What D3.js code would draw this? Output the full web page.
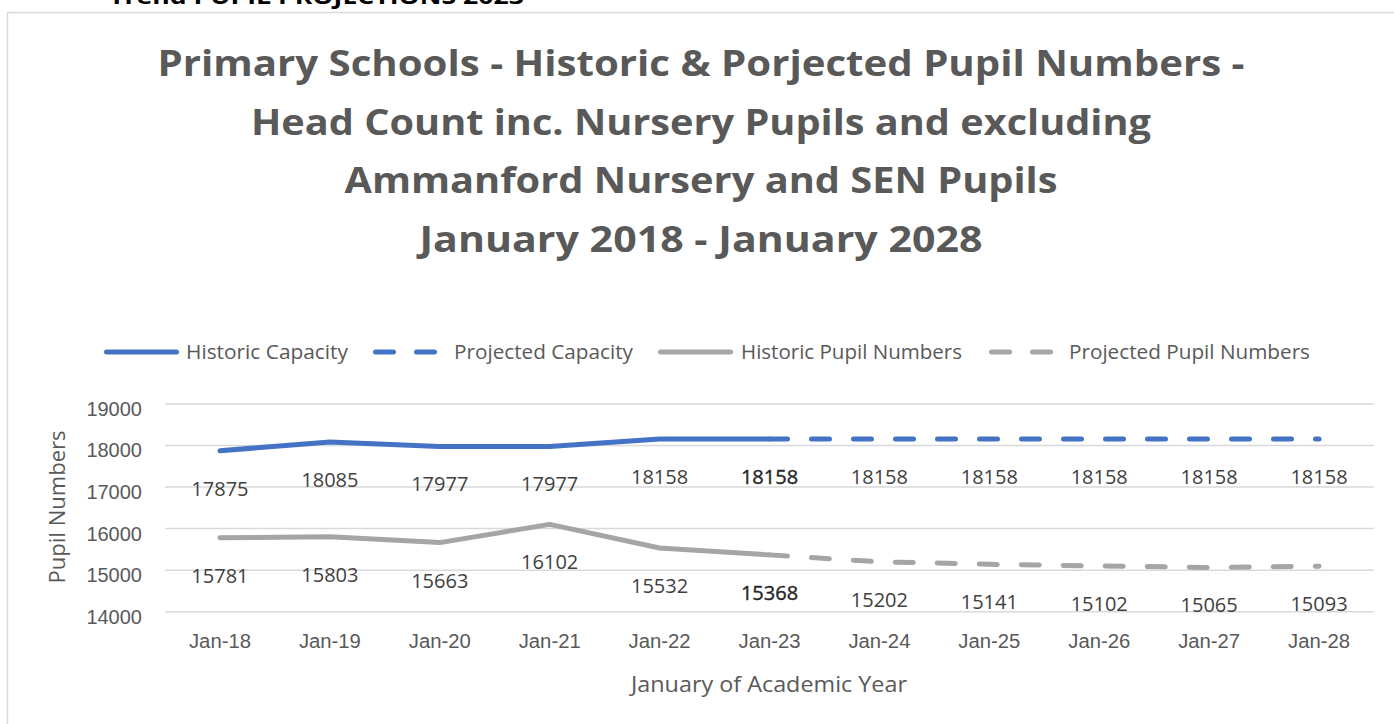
<!DOCTYPE html>
<html>
<head>
<meta charset="utf-8">
<script src="https://cdn.jsdelivr.net/npm/d3@7"></script>
<style>
  body { margin: 0; background: #fff; }
  svg { display: block; font-family: "Open Sans", Lato, sans-serif; }
</style>
</head>
<body>
<svg width="1394" height="724"></svg>
<script>
// data
const years = ['Jan-18', 'Jan-19', 'Jan-20', 'Jan-21', 'Jan-22', 'Jan-23', 'Jan-24', 'Jan-25', 'Jan-26', 'Jan-27', 'Jan-28'];
const capacity = [17875, 18085, 17977, 17977, 18158, 18158, 18158, 18158, 18158, 18158, 18158];
const pupils = [15781, 15803, 15663, 16102, 15532, 15368, 15202, 15141, 15102, 15065, 15093];
const splitIndex = 5; // Jan-23: last historic point, first projected point
const yTicks = [14000, 15000, 16000, 17000, 18000, 19000];
const titleLines = ['Primary Schools - Historic & Porjected Pupil Numbers -', 'Head Count inc. Nursery Pupils and excluding', 'Ammanford Nursery and SEN Pupils', 'January 2018 - January 2028'];
const legendItems = ['Historic Capacity', 'Projected Capacity', 'Historic Pupil Numbers', 'Projected Pupil Numbers'];

const blue = '#4472C4', grey = '#A5A5A5', textCol = '#595959';

const svg = d3.select('svg');

// cut-off heading from the document above the chart
svg.append('text')
    .attr('x', 109).attr('y', 4)
    .attr('font-size', 22).attr('font-weight', 'bold').attr('fill', '#000')
    .attr('textLength', 415).attr('lengthAdjust', 'spacingAndGlyphs')
    .text('Trend PUPIL PROJECTIONS 2023');

// chart frame
svg.append('rect')
    .attr('x', 7.5).attr('y', 12.5)
    .attr('width', 1400).attr('height', 730)
    .attr('fill', '#fff').attr('stroke', '#d9d9d9').attr('stroke-width', 1.5);

// title
const titleWidths = [1087, 900, 713, 563];
svg.append('g').selectAll('text')
    .data(titleLines).join('text')
    .attr('x', 701)
    .attr('y', (d, i) => 76 + i * 58.5)
    .attr('text-anchor', 'middle')
    .attr('font-size', 35).attr('font-weight', 'bold').attr('fill', textCol)
    .attr('textLength', (d, i) => titleWidths[i]).attr('lengthAdjust', 'spacingAndGlyphs')
    .text(d => d);

const x = d3.scaleBand().domain(years).range([165, 1374]);
const y = d3.scaleLinear().domain([14000, 19000]).range([611.7, 404]);
const cx = d => x(d) + x.bandwidth() / 2;

// gridlines
svg.append('g').selectAll('line')
    .data(yTicks).join('line')
    .attr('x1', 165).attr('x2', 1374)
    .attr('y1', d => y(d)).attr('y2', d => y(d))
    .attr('stroke', '#d9d9d9').attr('stroke-width', 1.5);

// y axis labels
const yAxis = svg.append('g')
    .attr('transform', 'translate(142,5)')
    .call(d3.axisLeft(y).tickValues(yTicks).tickSize(0).tickPadding(0).tickFormat(d3.format('d')));
yAxis.select('.domain').remove();
yAxis.selectAll('text').attr('font-size', 20).attr('fill', textCol).attr('font-family', null);

// x axis labels
const xAxis = svg.append('g')
    .attr('transform', 'translate(0,634)')
    .call(d3.axisBottom(x).tickSize(0).tickPadding(0));
xAxis.select('.domain').remove();
xAxis.selectAll('text').attr('font-size', 20).attr('fill', textCol).attr('font-family', null)
    .attr('textLength', 62).attr('lengthAdjust', 'spacingAndGlyphs');

// axis titles
svg.append('text')
    .attr('x', 769).attr('y', 692)
    .attr('text-anchor', 'middle').attr('font-size', 21).attr('fill', textCol)
    .attr('textLength', 276).attr('lengthAdjust', 'spacingAndGlyphs')
    .text('January of Academic Year');
svg.append('text')
    .attr('transform', 'translate(65,507) rotate(-90)')
    .attr('text-anchor', 'middle').attr('font-size', 21).attr('fill', textCol)
    .attr('textLength', 153).attr('lengthAdjust', 'spacingAndGlyphs')
    .text('Pupil Numbers');

// lines
const line = d3.line().x(d => cx(d.year)).y(d => y(d.value));
const toPoints = vals => vals.map((v, i) => ({ year: years[i], value: v }));

function drawSeries(vals, colour) {
    const pts = toPoints(vals);
    svg.append('path')
        .datum(pts.slice(0, splitIndex + 1))
        .attr('d', line)
        .attr('fill', 'none').attr('stroke', colour).attr('stroke-width', 5)
        .attr('stroke-linecap', 'round').attr('stroke-linejoin', 'round');
    svg.append('path')
        .datum(pts.slice(splitIndex))
        .attr('d', line)
        .attr('fill', 'none').attr('stroke', colour).attr('stroke-width', 5)
        .attr('stroke-dasharray', '18,24')
        .attr('stroke-linecap', 'round');
    // Jan-23 labels are drawn twice in the source, so they look a bit heavier
    svg.append('g').selectAll('text')
        .data(pts).join('text')
        .attr('x', d => cx(d.year))
        .attr('y', d => y(d.value) + 45)
        .attr('text-anchor', 'middle').attr('font-size', 20)
        .attr('fill', (d, i) => i === splitIndex ? '#262626' : '#404040')
        .attr('stroke', (d, i) => i === splitIndex ? '#262626' : 'none')
        .attr('stroke-width', 0.4)
        .text(d => d.value);
}
drawSeries(capacity, blue);
drawSeries(pupils, grey);

// legend
const legendX = [104, 373, 658, 989];
const legendText = [186, 454, 741, 1069];
const legendWidths = [162, 179, 221, 241];
const legendCol = [blue, blue, grey, grey];
legendItems.forEach((name, i) => {
    const g = svg.append('g');
    if (i % 2 === 0) {
        g.append('line')
            .attr('x1', legendX[i] + 2.5).attr('x2', legendX[i] + 72.5)
            .attr('y1', 352).attr('y2', 352);
    } else {
        g.append('line')
            .attr('x1', legendX[i] + 2.5).attr('x2', legendX[i] + 62)
            .attr('y1', 352).attr('y2', 352)
            .attr('stroke-dasharray', '18,23');
    }
    g.select('line')
        .attr('stroke', legendCol[i]).attr('stroke-width', 5).attr('stroke-linecap', 'round');
    g.append('text')
        .attr('x', legendText[i]).attr('y', 359)
        .attr('font-size', 20).attr('fill', textCol)
        .attr('textLength', legendWidths[i]).attr('lengthAdjust', 'spacingAndGlyphs')
        .text(name);
});
</script>
</body>
</html>
